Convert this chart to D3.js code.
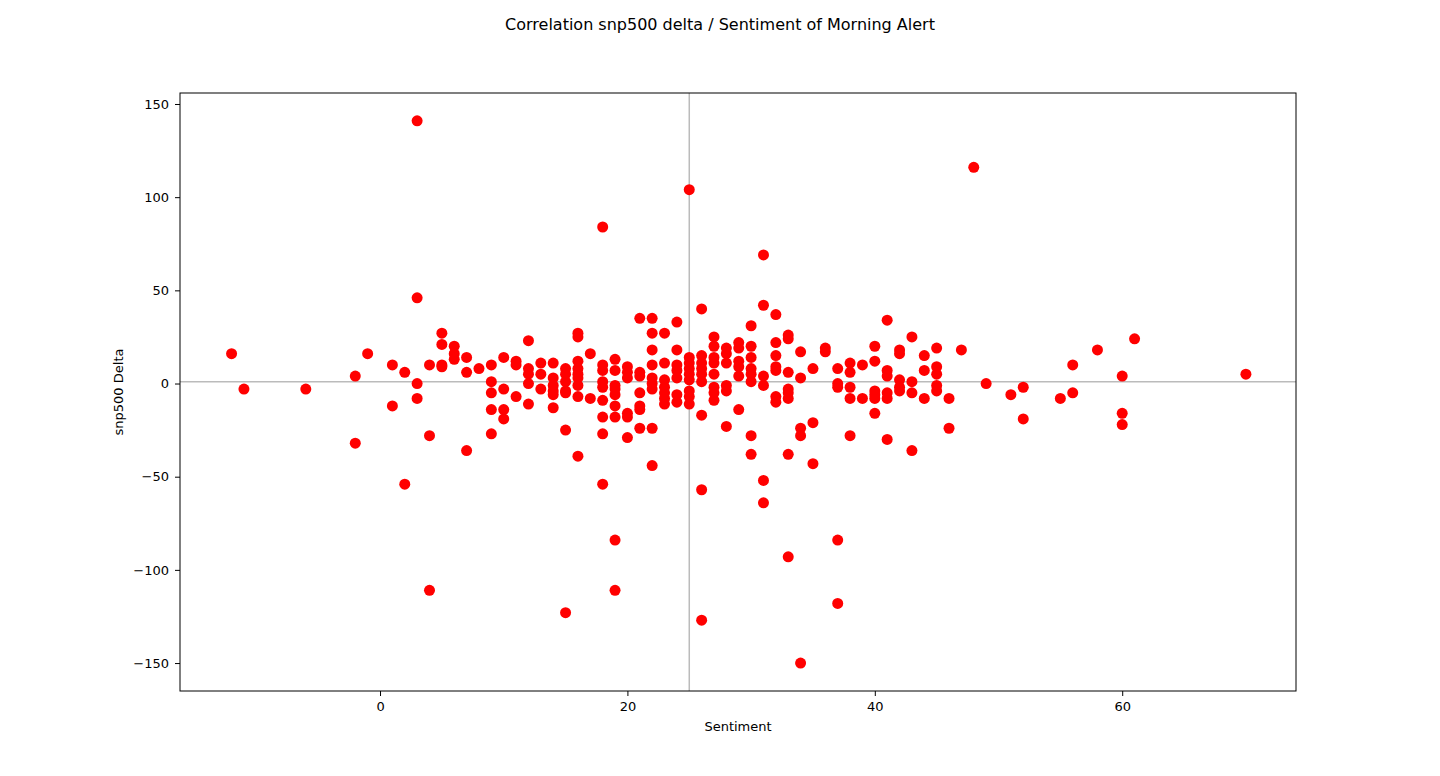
<!DOCTYPE html>
<html><head><meta charset="utf-8">
<script src="https://cdn.jsdelivr.net/npm/d3@7"></script>
<style>body{margin:0;background:#fff}text{font-family:"DejaVu Sans",sans-serif}</style>
</head><body><div id="chart"></div>
<script>
// readings grouped by sentiment score: [sentiment, deltas...]
var groups = [
  [-12,16],[-11,-3],[-6,-3],[-2,4,-32],[-1,16],[1,10,-12],[2,6,-54],
  [3,141,46,0,-8],[4,10,-28,-111],[5,27,21,10,9],[6,20,16,13],[7,14,6,-36],[8,8],
  [9,10,1,-5,-14,-27],[10,14,-3,-14,-19],[11,12,10,-7],[12,23,8,5,0,-11],[13,11,5,-3],
  [14,11,3,-1,-4,-6,-13],[15,8,5,1,-4,-5,-25,-123],[16,27,25,12,8,5,3,-1,-7,-39],[17,16,-8],
  [18,84,10,7,1,-2,-9,-18,-27,-54],[19,13,7,-1,-3,-6,-12,-18,-84,-111],[20,9,6,3,-16,-18,-29],
  [21,35,6,4,-5,-12,-14,-24],[22,35,27,18,10,3,0,-3,-24,-44],[23,27,11,2,-2,-5,-8,-11],
  [24,33,18,10,7,3,-6,-10],[25,104,14,11,8,5,2,-4,-7,-11],[26,40,15,11,8,5,1,-17,-57,-127],
  [27,25,20,14,11,5,-2,-5,-9],[28,19,16,11,-1,-4,-23],[29,22,19,12,9,4,-14],
  [30,31,20,14,8,5,1,-28,-38],[31,69,42,4,-1,-52,-64],[32,37,22,15,9,7,-7,-10],
  [33,26,24,6,-3,-5,-8,-38,-93],[34,17,3,-24,-28,-150],[35,8,-21,-43],[36,19,17],
  [37,8,0,-2,-84,-118],[38,11,6,-2,-8,-28],[39,10,-8],[40,20,12,-4,-6,-8,-16],
  [41,34,7,4,-5,-8,-30],[42,18,16,2,-2,-4],[43,25,1,-5,-36],[44,15,7,-8],[45,19,9,5,-1,-4],
  [46,-8,-24],[47,18],[48,116],[49,0],[51,-6],[52,-2,-19],[55,-8],[56,10,-5],[58,18],
  [60,4,-16,-22],[61,24],[70,5]
];
var sentiment = [], delta = [];
groups.forEach(function(g){ for (var i = 1; i < g.length; i++) { sentiment.push(g[0]); delta.push(g[i]); } });
var xTicks = [0,20,40,60];
var yTicks = [-150,-100,-50,0,50,100,150];
var meanX = 25, meanY = 1;

var W = 1440, H = 776;
var margin = {top: 93, right: 144, bottom: 85, left: 180};
var svg = d3.select("#chart").append("svg").attr("width", W).attr("height", H);
var x = d3.scaleLinear().domain([-16.17, 74.05]).range([margin.left, W - margin.right]);
var y = d3.scaleLinear().domain([-165, 155.9]).range([H - margin.bottom, margin.top]);

svg.append("text").attr("x", W/2).attr("y", 30).attr("text-anchor", "middle")
  .style("font-size", "16px").text("Correlation snp500 delta / Sentiment of Morning Alert");

var g = svg.append("g");
g.append("line").attr("x1", x(meanX)).attr("x2", x(meanX)).attr("y1", margin.top).attr("y2", H - margin.bottom)
  .attr("stroke", "#bbb").attr("stroke-width", 1.5);
g.append("line").attr("x1", margin.left).attr("x2", W - margin.right).attr("y1", y(meanY)).attr("y2", y(meanY))
  .attr("stroke", "#bbb").attr("stroke-width", 1.5);

g.selectAll("circle").data(sentiment).enter().append("circle")
  .attr("cx", function(d){ return x(d); })
  .attr("cy", function(d, i){ return y(delta[i]); })
  .attr("r", 5.5).attr("fill", "red");

var xa = svg.append("g").attr("transform", "translate(0," + (H - margin.bottom) + ")")
  .call(d3.axisBottom(x).tickValues(xTicks).tickSize(5).tickPadding(6));
var ya = svg.append("g").attr("transform", "translate(" + margin.left + ",0)")
  .call(d3.axisLeft(y).tickValues(yTicks).tickSize(5).tickPadding(6).tickFormat(function(d){ return d < 0 ? "\u2212" + (-d) : d; }));
[xa, ya].forEach(function(a){ a.selectAll("text").style("font-size", "13px").attr("fill", "#000"); a.select(".domain").remove(); });

svg.append("rect").attr("x", margin.left).attr("y", margin.top)
  .attr("width", W - margin.left - margin.right).attr("height", H - margin.top - margin.bottom)
  .attr("fill", "none").attr("stroke", "#000");

svg.append("text").attr("x", (margin.left + W - margin.right)/2).attr("y", 731).attr("text-anchor", "middle")
  .style("font-size", "13px").text("Sentiment");
svg.append("text").attr("transform", "translate(123," + ((margin.top + H - margin.bottom)/2) + ") rotate(-90)")
  .attr("text-anchor", "middle").style("font-size", "13px").text("snp500 Delta");
</script></body></html>
